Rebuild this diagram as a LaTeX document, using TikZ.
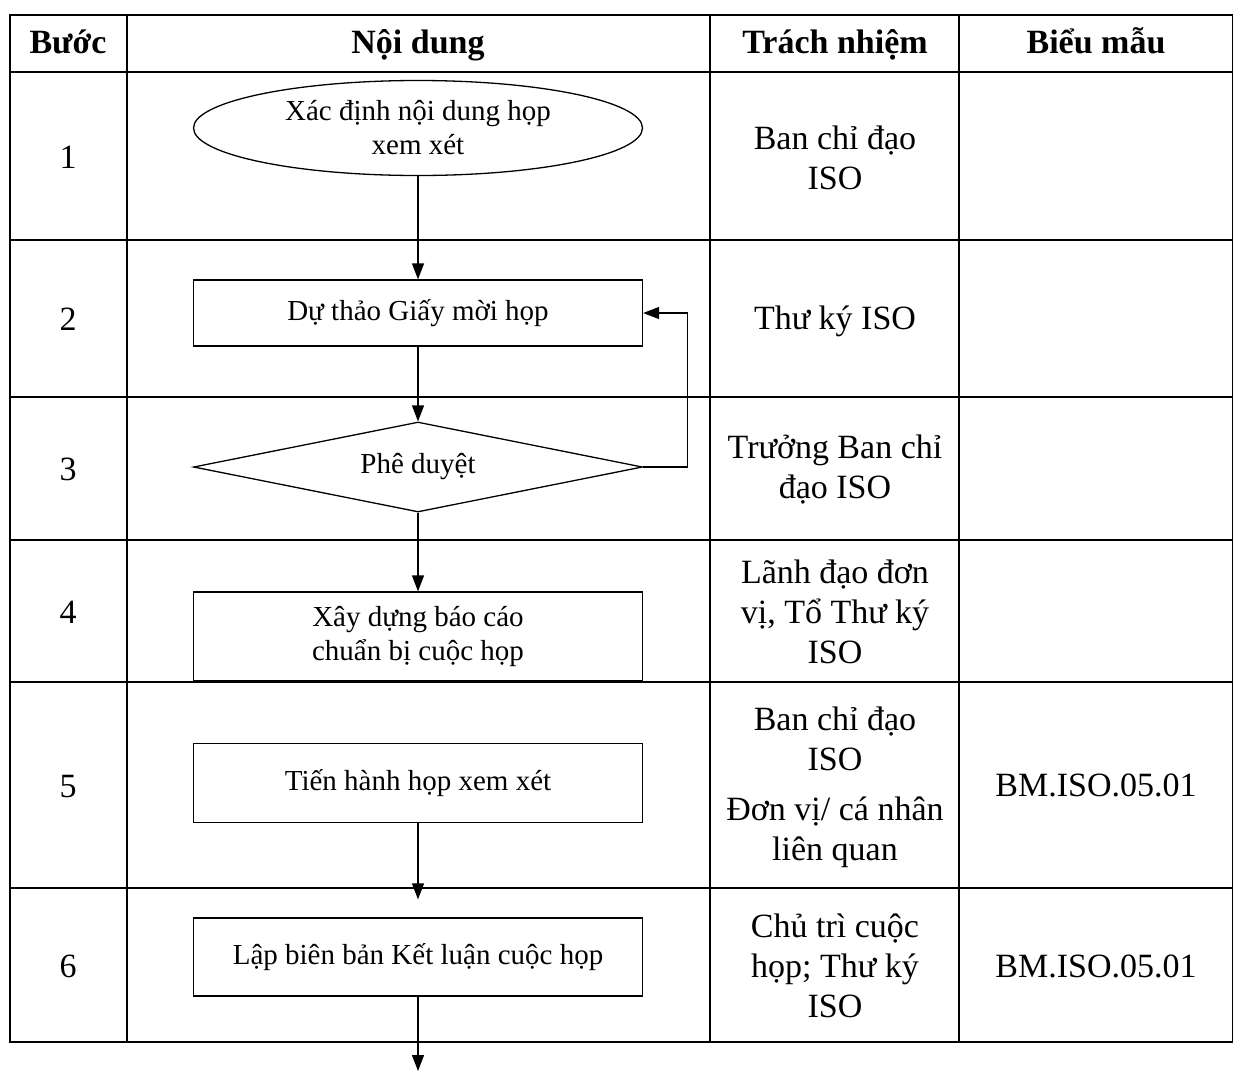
\documentclass[tikz,border=0pt]{standalone}
\usepackage{fontspec}
\setmainfont{Liberation Serif}
\usetikzlibrary{arrows.meta,shapes.geometric,positioning,calc}

\begin{document}
\begin{tikzpicture}[x=1pt,y=-1pt,->,>={Triangle[length=16pt,width=12pt]},line width=1.3pt]
  \tikzstyle{grid}=[-,line width=1.6pt]
  \tikzstyle{cell}=[inner sep=0pt,align=center,font=\fontsize{34}{40}\selectfont]
  \tikzstyle{head}=[cell,text height=24pt,text depth=8pt,font=\fontsize{34}{40}\selectfont\bfseries]
  \tikzstyle{block}=[draw,rectangle,inner sep=0pt,minimum width=449pt,align=center,font=\fontsize{29}{34}\selectfont]
  \tikzstyle{decision}=[draw,diamond,inner sep=0pt,shape aspect=5,minimum width=449pt,minimum height=90pt,font=\fontsize{29}{34}\selectfont]
  \tikzstyle{start}=[draw,ellipse,inner sep=0pt,minimum width=449pt,minimum height=95pt,align=center,font=\fontsize{29}{34}\selectfont]

  \useasboundingbox (0,0) rectangle (1233,1072);

  % table
  \draw[grid] (10,15) rectangle (1233,1042);
  \foreach \y in {72,240,397,540,682,888}
    \draw[grid] (10,\y) -- (1233,\y);
  \foreach \x in {127,710,959}
    \draw[grid] (\x,15) -- (\x,1042);

  \node[head] (h1) at (68,45) {Bước};
  \node[head] (h2) at (418,45) {Nội dung};
  \node[head] (h3) at (835,45) {Trách nhiệm};
  \node[head] (h4) at (1096,45) {Biểu mẫu};

  \foreach \n/\y in {1/156,2/318,3/468,4/611,5/785,6/965}
    \node[cell,text height=24pt,text depth=0pt] (s\n) at (68,\y) {\n};

  % flow
  \node[start] (b1) at (418,128) {Xác định nội dung họp\\xem xét};
  \node[block,minimum height=66pt] (b2) at (418,313) {Dự thảo Giấy mời họp};
  \node[decision] (b3) at (418,467) {Phê duyệt};
  \node[block,minimum height=89pt] (b4) at (418,636.5) {Xây dựng báo cáo\\chuẩn bị cuộc họp};
  \node[block,minimum height=79pt] (b5) at (418,783) {Tiến hành họp xem xét};
  \node[block,minimum height=78pt] (b6) at (418,957) {Lập biên bản Kết luận cuộc họp};
  \coordinate (out) at (418,1071);

  \draw (b1) -- (b2);
  \draw (b2) -- (b3);
  \draw (b3) -- (b4);
  \draw[shorten >=18pt] (b5) -- (b6);
  \draw (b6) -- (out);
  \draw (b3.east) -- ++(44,0) |- (b2.east);

  % who / forms
  \node[cell] (r1) at (835,158) {Ban chỉ đạo\\ISO};
  \node[cell] (r2) at (835,321) {Thư ký ISO};
  \node[cell] (r3) at (835,470) {Trưởng Ban chỉ\\đạo ISO};
  \node[cell] (r4) at (835,612) {Lãnh đạo đơn\\vị, Tổ Thư ký\\ISO};
  \node[cell] (r5) at (835,787) {Ban chỉ đạo\\ISO\\[10pt]Đơn vị/ cá nhân\\liên quan};
  \node[cell] (r6) at (835,966) {Chủ trì cuộc\\họp; Thư ký\\ISO};
  \node[cell] (f5) at (1096,785) {BM.ISO.05.01};
  \node[cell] (f6) at (1096,966) {BM.ISO.05.01};
\end{tikzpicture}
\end{document}
